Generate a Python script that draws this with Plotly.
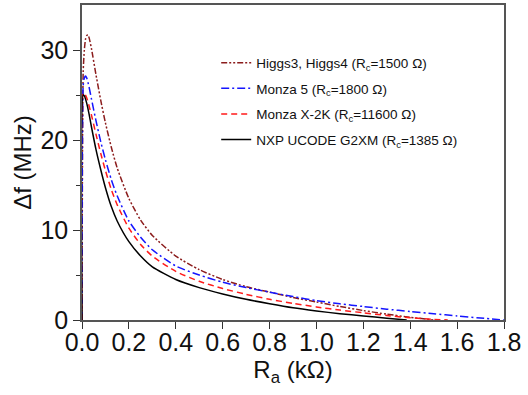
import plotly.graph_objects as go

# Ra in kOhm, delta-f in MHz
ra_higgs = [0, 0.005, 0.01, 0.015, 0.02, 0.025, 0.03, 0.04, 0.06, 0.08, 0.1, 0.125, 0.15, 0.2, 0.25, 0.3,
            0.4, 0.5, 0.6, 0.7, 0.8, 0.9, 1.0, 1.1, 1.2, 1.3, 1.4, 1.5]
df_higgs = [0, 27.5, 30.0, 31.2, 31.6, 31.7, 31.4, 30.2, 27.2, 24.4, 21.9, 19.2, 16.9, 13.5, 11.1, 9.4,
            7.1, 5.6, 4.5, 3.7, 3.1, 2.5, 2.0, 1.5, 1.05, 0.65, 0.3, 0]

ra_monza5 = [0, 0.005, 0.01, 0.015, 0.02, 0.03, 0.04, 0.06, 0.08, 0.1, 0.125, 0.15, 0.2, 0.25, 0.3,
             0.4, 0.5, 0.6, 0.7, 0.8, 0.9, 1.0, 1.1, 1.2, 1.3, 1.4, 1.5, 1.6, 1.7, 1.8]
df_monza5 = [0, 26.0, 26.9, 27.1, 26.9, 25.9, 24.6, 22.1, 19.8, 17.8, 15.6, 13.8, 11.0, 9.2, 7.8,
             6.0, 5.0, 4.2, 3.6, 3.1, 2.6, 2.15, 1.8, 1.5, 1.2, 0.95, 0.7, 0.45, 0.22, 0]

ra_monzax = [0, 0.005, 0.01, 0.02, 0.03, 0.04, 0.06, 0.08, 0.1, 0.125, 0.15, 0.2, 0.25, 0.3,
             0.4, 0.5, 0.6, 0.7, 0.8, 0.9, 1.0, 1.1, 1.2, 1.3, 1.4, 1.5, 1.56]
df_monzax = [0, 25.2, 25.2, 24.7, 23.8, 22.8, 20.6, 18.5, 16.6, 14.5, 12.8, 10.2, 8.4, 7.1,
             5.4, 4.3, 3.5, 2.85, 2.3, 1.85, 1.45, 1.1, 0.8, 0.5, 0.25, 0.07, 0]

ra_nxp = [0, 0.005, 0.01, 0.02, 0.03, 0.04, 0.06, 0.08, 0.1, 0.125, 0.15, 0.2, 0.25, 0.3,
          0.4, 0.5, 0.6, 0.7, 0.8, 0.9, 1.0, 1.1, 1.2, 1.3, 1.385]
df_nxp = [0, 25.0, 24.9, 24.1, 22.9, 21.5, 18.9, 16.7, 14.7, 12.6, 11.0, 8.7, 7.1, 5.9,
          4.5, 3.6, 2.9, 2.3, 1.8, 1.35, 1.0, 0.7, 0.45, 0.2, 0]

names = ["Higgs3, Higgs4 (R<sub>c</sub>=1500 Ω)",
         "Monza 5 (R<sub>c</sub>=1800 Ω)",
         "Monza X-2K (R<sub>c</sub>=11600 Ω)",
         "NXP UCODE G2XM (R<sub>c</sub>=1385 Ω)"]

x_ticks = [0.0, 0.2, 0.4, 0.6, 0.8, 1.0, 1.2, 1.4, 1.6, 1.8]
y_ticks = [0, 10, 20, 30]

FONT = "Liberation Sans, Arial"

fig = go.Figure()
series = [
    (ra_higgs, df_higgs, names[0], "#8B1C1C", "6px,2px,2px,2px,2px,2px"),
    (ra_monza5, df_monza5, names[1], "#1515FF", "8px,3px,2px,3px"),
    (ra_monzax, df_monzax, names[2], "#FF1A1A", "6px,4px"),
    (ra_nxp, df_nxp, names[3], "#000000", "solid"),
]
for i, (x, y, n, c, d) in enumerate(series):
    fig.add_trace(go.Scatter(x=x, y=y, name=n, mode="lines", legendgroup=f"g{i}",
                             line=dict(color=c, width=1.5, dash=d, shape="spline", smoothing=0.6)))

axis_common = dict(showline=True, linecolor="#555555", linewidth=1.5, mirror=True,
                   ticks="outside", ticklen=7, tickwidth=1.2, tickcolor="#333333",
                   showgrid=False, zeroline=False, automargin=False,
                   tickfont=dict(family=FONT, size=25, color="#111111"))

fig.update_xaxes(range=[0, 1.8], tickvals=x_ticks, ticktext=[f"{v:.1f}" for v in x_ticks],
                 ticklabelstandoff=-8,
                 title=dict(text="R<sub>a</sub> (kΩ)", font=dict(family=FONT, size=24, color="#111111"), standoff=4),
                 **axis_common)
fig.update_yaxes(range=[0, 35], tickvals=y_ticks,
                 minor=dict(tickvals=[5, 15, 25], ticks="outside", ticklen=4, tickcolor="#333333"),
                 title=dict(text="Δf (MHz)", font=dict(family=FONT, size=24, color="#111111"), standoff=2),
                 **axis_common)

fig.update_layout(
    width=528, height=395,
    margin=dict(l=82, r=24, t=5, b=75),
    paper_bgcolor="white", plot_bgcolor="white",
    showlegend=True,
    legend=dict(x=0.318, y=0.865, xanchor="left", yanchor="top",
                bgcolor="rgba(0,0,0,0)", borderwidth=0,
                font=dict(family=FONT, size=13.5, color="#111111"),
                itemwidth=30, tracegroupgap=5),
)

fig.write_html("out.html", config={"displayModeBar": False},
               post_script="document.body.style.margin='0';document.body.style.padding='0';")
